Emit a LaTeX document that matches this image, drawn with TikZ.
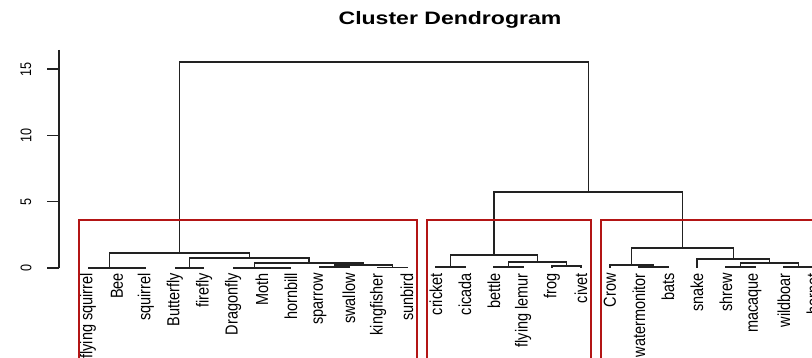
\documentclass[tikz,border=0pt]{standalone}
\usepackage{fontspec}
\setmainfont{Liberation Sans}
\usepackage{graphicx}
\definecolor{cutred}{HTML}{B31515}
\definecolor{dendcol}{HTML}{222222}
\tikzset{
  dend/.style={draw=dendcol, line width=1.3pt},
  cutbox/.style={draw=cutred, line width=1.3pt},
  leaflab/.style={anchor=north, inner sep=0pt},
  ticklab/.style={anchor=center, inner sep=0pt},
  axisline/.style={draw=dendcol, line width=1.2pt},
}
\newcommand{\leaftext}[1]{\rotatebox{90}{\scalebox{1}[1.2]{\fontsize{14.5}{14.5}\selectfont #1}}}
\newcommand{\ticktext}[1]{\rotatebox{90}{\scalebox{1}[1.22]{\fontsize{12.6}{12.6}\selectfont #1}}}
\begin{document}
\begin{tikzpicture}[x=1pt,y=-1pt]
\useasboundingbox (0,0) rectangle (812,358);
\fill[white] (0,0) rectangle (812,358);
\clip (0,0) rectangle (812,358);

% title
\node[anchor=base, inner sep=0pt] (title) at (450,25)
  {\fontsize{18}{18}\bfseries\selectfont\scalebox{1.28}[1]{Cluster Dendrogram}};

% axis
\draw[axisline] (59,50) -- (59,268);
\foreach \v/\yy in {0/268, 5/201.7, 10/135.3, 15/69} {
  \draw[axisline] (47,\yy) -- (59,\yy);
  \node[ticklab] (t\v) at (26,\yy) {\ticktext{\v}};
}

% leaves
\foreach \n [count=\i from 0] in {flying squirrel, Bee, squirrel, Butterfly, firefly, Dragonfly, Moth, hornbill, sparrow, swallow, kingfisher, sunbird, cricket, cicada, bettle, flying lemur, frog, civet, Crow, watermonitor, bats, snake, shrew, macaque, wildboar, hornet} {
  \coordinate (l\i) at ({88+29*\i},268);
  \node[leaflab] (n\i) at ({88+29*\i},273) {\leaftext{\n}};
}

% merges: left cluster
\coordinate (a1) at (131.5,268);  \draw[dend] (l1) |- (a1) -| (l2);
\coordinate (a2) at (109.75,268); \draw[dend] (l0) |- (a2) -| (a1);
\coordinate (b1) at (189.5,268);  \draw[dend] (l3) |- (b1) -| (l4);
\coordinate (c1) at (276.5,268);  \draw[dend] (l6) |- (c1) -| (l7);
\coordinate (c2) at (254.75,268); \draw[dend] (l5) |- (c2) -| (c1);
\coordinate (e1) at (334.5,267);  \draw[dend] (l8) |- (e1) -| (l9);
\coordinate (e2) at (392.5,267.5);\draw[dend] (l10) |- (e2) -| (l11);
\coordinate (e3) at (363.5,265);  \draw[dend] (e1) |- (e3) -| (e2);
\coordinate (f)  at (309.1,263);  \draw[dend] (c2) |- (f) -| (e3);
\coordinate (g)  at (249.3,258);  \draw[dend] (b1) |- (g) -| (f);
\coordinate (h)  at (179.4,253);  \draw[dend] (a2) |- (h) -| (g);

% middle cluster
\coordinate (p1) at (450.5,267);  \draw[dend] (l12) |- (p1) -| (l13);
\coordinate (p2) at (508.5,267);  \draw[dend] (l14) |- (p2) -| (l15);
\coordinate (p3) at (566.5,266);  \draw[dend] (l16) |- (p3) -| (l17);
\coordinate (p4) at (537.5,262);  \draw[dend] (p2) |- (p4) -| (p3);
\coordinate (p5) at (494,255);    \draw[dend] (p1) |- (p5) -| (p4);

% right cluster
\coordinate (q1) at (653.5,267);  \draw[dend] (l19) |- (q1) -| (l20);
\coordinate (q2) at (631.75,265); \draw[dend] (l18) |- (q2) -| (q1);
\coordinate (q3) at (740.5,267);  \draw[dend] (l22) |- (q3) -| (l23);
\coordinate (q4) at (798.5,267);  \draw[dend] (l24) |- (q4) -| (l25);
\coordinate (q5) at (769.5,263);  \draw[dend] (q3) |- (q5) -| (q4);
\coordinate (q6) at (733.25,259); \draw[dend] (l21) |- (q6) -| (q5);
\coordinate (q7) at (682.5,248);  \draw[dend] (q2) |- (q7) -| (q6);

% top merges
\coordinate (M) at (588.25,192);  \draw[dend] (p5) |- (M) -| (q7);
\coordinate (root) at (383.8,62); \draw[dend] (h) |- (root) -| (M);

% cut rectangles
\draw[cutbox] (79,220) rectangle (417,372);
\draw[cutbox] (427,220) rectangle (591,372);
\draw[cutbox] (601,220) rectangle (830,372);
\end{tikzpicture}
\end{document}
